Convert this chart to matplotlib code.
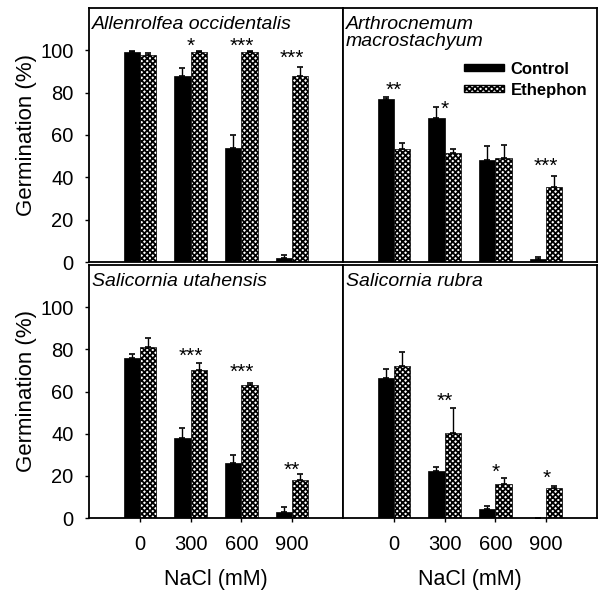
import matplotlib
matplotlib.use("Agg")
import matplotlib.pyplot as plt
from matplotlib.patches import Patch
import numpy as np

plt.rcParams['font.family'] = ['Liberation Sans', 'DejaVu Sans']
plt.rcParams['hatch.linewidth'] = 1.3

nacl = ["0", "300", "600", "900"]
titles = ["Allenrolfea occidentalis", "Arthrocnemum\nmacrostachyum",
          "Salicornia utahensis", "Salicornia rubra"]

control = [[99, 88, 54, 2], [77, 68, 48, 1.2], [76, 38, 26, 3], [66.5, 22.5, 4.3, 0]]
control_err = [[0.7, 3.7, 6, 1.3], [0.8, 5, 7, 1], [2, 4.7, 3.8, 2], [4, 1.8, 1.5, 0]]
ethephon = [[98, 99, 99, 88], [53.5, 51.3, 49, 35.3], [81, 70.3, 63.3, 18], [72.3, 40.3, 16.2, 14.3]]
ethephon_err = [[0.8, 0.8, 0.8, 4], [2.8, 1.9, 6.2, 5.2], [4.2, 3.2, 0.8, 3], [6.5, 12, 2.8, 0.9]]
stars = [["", "*", "***", "***"], ["**", "*", "", "***"],
         ["", "***", "***", "**"], ["", "**", "*", "*"]]
star_y = [[0, 102, 102, 96], [81, 72, 0, 45], [0, 76.5, 69, 22.6], [0, 55.4, 21.5, 19]]

W, H = 601, 592
fig = plt.figure(figsize=(W / 100, H / 100), dpi=100)

def frac(l, t, r, b):
    return [l / W, 1 - b / H, (r - l) / W, (b - t) / H]

rects = [frac(89, 8, 343, 262), frac(343, 8, 597, 262),
         frac(89, 265, 343, 518), frac(343, 265, 597, 518)]

HATCH = 'xxxxxx'
x = np.arange(len(nacl))
bw = 0.32
for i in range(4):
    ax = fig.add_axes(rects[i])
    ax.bar(x - bw / 2, control[i], bw, color='black', edgecolor='black', linewidth=0.5)
    ax.bar(x + bw / 2, ethephon[i], bw, color='white', edgecolor='black', hatch=HATCH, linewidth=0.5)
    ax.errorbar(x - bw / 2, control[i], yerr=[np.zeros(4), control_err[i]], fmt='none',
                ecolor='black', elinewidth=1, capsize=2, capthick=1.2)
    ax.errorbar(x + bw / 2, ethephon[i], yerr=[np.zeros(4), ethephon_err[i]], fmt='none',
                ecolor='black', elinewidth=1, capsize=2, capthick=1.2)
    for j in range(4):
        if stars[i][j]:
            ax.text(x[j], star_y[i][j], stars[i][j], ha='center', va='center', fontsize=15)
    ax.set_xlim(-1, 4)
    ax.set_ylim(0, 120)
    for s in ax.spines.values():
        s.set_linewidth(1.3)
    ax.text(0.012, 0.97, titles[i], transform=ax.transAxes, ha='left', va='top',
            fontsize=14, style='italic', linespacing=1.0)
    if i % 2 == 0:
        ax.set_yticks([0, 20, 40, 60, 80, 100])
        ax.tick_params(axis='y', direction='out', length=3, width=1, pad=8, labelsize=14.5)
        ax.set_ylabel("Germination (%)", fontsize=16, labelpad=2.5)
    else:
        ax.set_yticks([])
    if i >= 2:
        ax.set_xticks(x)
        ax.set_xticklabels(nacl)
        ax.tick_params(axis='x', direction='out', length=3, width=1, pad=9, labelsize=14.5)
        ax.set_xlabel("NaCl (mM)", fontsize=15.5, labelpad=11)
    else:
        ax.set_xticks([])
    if i == 1:
        handles = [Patch(facecolor='black', edgecolor='black', label='Control'),
                   Patch(facecolor='white', edgecolor='black', hatch=HATCH, label='Ethephon')]
        ax.legend(handles=handles, loc='upper right', bbox_to_anchor=(1.0, 0.828),
                  frameon=False, prop={'weight': 'bold', 'size': 12},
                  handlelength=2.4, handleheight=0.3, handletextpad=0.4,
                  labelspacing=0.35, borderaxespad=0.2)

fig.savefig("out.png", dpi=100)
